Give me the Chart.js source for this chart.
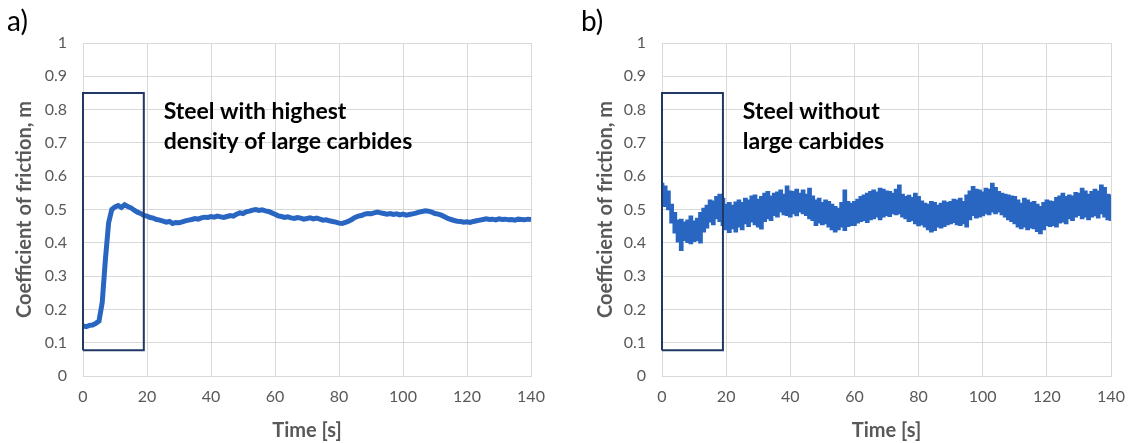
<!DOCTYPE html>
<html>
<head>
<meta charset="utf-8">
<script src="https://cdn.jsdelivr.net/npm/chart.js@4"></script>
<style>
  body { margin: 0; background: #fff; }
  #wrap { position: relative; width: 1130px; height: 443px; }
  #chartA { position: absolute; left: 0; top: 0; }
  #chartB { position: absolute; left: 579px; top: 0; }
</style>
</head>
<body>
<div id="wrap">
  <canvas id="chartA" width="579" height="443"></canvas>
  <canvas id="chartB" width="551" height="443"></canvas>
</div>
<script>
// friction coefficient, one reading per second (0..140 s)
var muA = [
  0.150, 0.148, 0.152, 0.153, 0.158, 0.165, 0.220, 0.350, 0.460, 0.500,
  0.508, 0.512, 0.506, 0.514, 0.509, 0.505, 0.498, 0.492, 0.488, 0.482,
  0.480, 0.476, 0.474, 0.470, 0.468, 0.465, 0.462, 0.464, 0.458, 0.461,
  0.460, 0.463, 0.466, 0.468, 0.470, 0.473, 0.471, 0.475, 0.477, 0.476,
  0.479, 0.477, 0.480, 0.478, 0.476, 0.479, 0.482, 0.480, 0.486, 0.490,
  0.488, 0.493, 0.495, 0.498, 0.500, 0.497, 0.499, 0.496, 0.494, 0.490,
  0.486, 0.481, 0.479, 0.476, 0.478, 0.475, 0.473, 0.476, 0.474, 0.471,
  0.473, 0.475, 0.472, 0.474, 0.471, 0.468, 0.469, 0.466, 0.464, 0.462,
  0.459, 0.458, 0.461, 0.465, 0.470, 0.476, 0.480, 0.482, 0.486, 0.488,
  0.487, 0.490, 0.492, 0.490, 0.488, 0.486, 0.488, 0.485, 0.487, 0.484,
  0.486, 0.483, 0.485, 0.487, 0.489, 0.492, 0.494, 0.496, 0.495, 0.492,
  0.488, 0.486, 0.483, 0.478, 0.473, 0.470, 0.467, 0.465, 0.464, 0.462,
  0.463, 0.461, 0.464, 0.466, 0.468, 0.470, 0.472, 0.470, 0.471, 0.469,
  0.472, 0.470, 0.471, 0.469, 0.470, 0.468, 0.471, 0.470, 0.469, 0.471,
  0.470
];

// steel b is noisy: upper and lower edge of the trace
var muBHigh = [
  0.578, 0.570, 0.555, 0.515, 0.490, 0.468, 0.470, 0.462, 0.468, 0.480,
  0.465, 0.473, 0.490, 0.503, 0.512, 0.528, 0.525, 0.538, 0.545, 0.533,
  0.515, 0.520, 0.512, 0.522, 0.528, 0.520, 0.533, 0.528, 0.540, 0.543,
  0.530, 0.538, 0.548, 0.553, 0.540, 0.548, 0.552, 0.558, 0.545, 0.570,
  0.555, 0.553, 0.560, 0.548, 0.558, 0.545, 0.563, 0.540, 0.528, 0.533,
  0.520, 0.528, 0.523, 0.515, 0.508, 0.503, 0.520, 0.558, 0.523, 0.518,
  0.523, 0.530, 0.538, 0.543, 0.548, 0.553, 0.558, 0.552, 0.563, 0.560,
  0.555, 0.553, 0.548, 0.560, 0.573, 0.545, 0.538, 0.542, 0.535, 0.548,
  0.538, 0.525, 0.518, 0.515, 0.523, 0.520, 0.512, 0.518, 0.525, 0.520,
  0.523, 0.530, 0.528, 0.533, 0.523, 0.543, 0.555, 0.568, 0.560, 0.558,
  0.552, 0.563, 0.560, 0.578, 0.565, 0.553, 0.548, 0.545, 0.543, 0.540,
  0.538, 0.528, 0.518, 0.533, 0.528, 0.520, 0.523, 0.515, 0.508, 0.520,
  0.528, 0.525, 0.523, 0.535, 0.540, 0.548, 0.538, 0.543, 0.540, 0.550,
  0.548, 0.563, 0.555, 0.545, 0.553, 0.560, 0.555, 0.573, 0.565, 0.545,
  0.543
];
var muBLow = [
  0.523, 0.510, 0.500, 0.460, 0.430, 0.403, 0.378, 0.408, 0.402, 0.398,
  0.405, 0.408, 0.400, 0.433, 0.445, 0.463, 0.455, 0.473, 0.465, 0.453,
  0.440, 0.432, 0.443, 0.433, 0.448, 0.440, 0.458, 0.450, 0.463, 0.455,
  0.448, 0.442, 0.465, 0.473, 0.468, 0.483, 0.478, 0.493, 0.485, 0.483,
  0.478, 0.488, 0.482, 0.493, 0.488, 0.483, 0.473, 0.468, 0.453, 0.460,
  0.455, 0.458, 0.448, 0.440, 0.433, 0.440, 0.448, 0.438, 0.450, 0.453,
  0.453, 0.460, 0.465, 0.468, 0.462, 0.470, 0.473, 0.478, 0.470, 0.478,
  0.483, 0.480, 0.488, 0.485, 0.488, 0.478, 0.473, 0.465, 0.468, 0.458,
  0.452, 0.455, 0.448, 0.440, 0.433, 0.438, 0.448, 0.445, 0.450, 0.455,
  0.458, 0.462, 0.455, 0.453, 0.458, 0.448, 0.470, 0.483, 0.475, 0.478,
  0.482, 0.488, 0.485, 0.493, 0.488, 0.493, 0.485, 0.478, 0.470, 0.465,
  0.458, 0.448, 0.443, 0.448, 0.440, 0.445, 0.443, 0.435, 0.428, 0.440,
  0.453, 0.450, 0.453, 0.448, 0.460, 0.463, 0.458, 0.473, 0.468, 0.478,
  0.483, 0.473, 0.478, 0.470, 0.478, 0.482, 0.475, 0.488, 0.478, 0.470,
  0.468
];

// highlighted running-in window (s, mu)
var boxT = [0, 0, 19, 19, 0];
var boxMu = [0.077, 0.85, 0.85, 0.077, 0.077];

var noteA = ["Steel with highest", "density of large carbides"];
var noteB = ["Steel without", "large carbides"];
var noteAt = [25.2, 0.795];

var blue = "#2966c1";
var grey = "#595959";
Chart.defaults.font.family = "Lato, 'Open Sans', sans-serif";

function toPoints(vals) {
  return vals.map(function (v, i) { return { x: i, y: v }; });
}

var boxPoints = boxT.map(function (t, i) { return { x: t, y: boxMu[i] }; });

var panelText = {
  id: "panelText",
  afterDraw: function (chart, args, opts) {
    var c = chart.ctx;
    var sx = chart.scales.x, sy = chart.scales.y;
    c.save();
    c.fillStyle = "#000";
    c.textBaseline = "middle";
    c.font = "28px Lato, sans-serif";
    c.fillText(opts.tag, opts.tagX, 22);
    c.font = "bold 23px Lato, sans-serif";
    var x = sx.getPixelForValue(noteAt[0]);
    var y = sy.getPixelForValue(noteAt[1]);
    opts.lines.forEach(function (s, i) { c.fillText(s, x, y + i * 30); });
    c.restore();
  }
};

function makeChart(id, datasets, tag, tagX, lines, padRight, titlePad) {
  return new Chart(document.getElementById(id), {
    type: "line",
    data: { datasets: datasets },
    options: {
      responsive: false,
      animation: false,
      layout: { padding: { left: 0, right: padRight, top: 43, bottom: 0 } },
      plugins: {
        legend: { display: false },
        tooltip: { enabled: false },
        panelText: { tag: tag, tagX: tagX, lines: lines }
      },
      elements: { point: { radius: 0 }, line: { tension: 0 } },
      scales: {
        x: {
          type: "linear",
          min: 0,
          max: 140,
          ticks: { stepSize: 20, color: grey, font: { size: 16 }, padding: 11, maxRotation: 0 },
          grid: { color: "#d9d9d9", drawTicks: false },
          border: { color: "#d9d9d9" },
          title: { display: true, text: "Time [s]", color: grey, font: { size: 20, weight: "bold" }, padding: { top: 4, bottom: 0 } },
          afterFit: function (s) {
            s.height = 67;
            s.paddingLeft = 0;
            s.paddingRight = 0;
          }
        },
        y: {
          min: 0,
          max: 1,
          ticks: {
            stepSize: 0.1, color: grey, font: { size: 16 }, padding: 16,
            callback: function (v) { return String(Math.round(v * 10) / 10); }
          },
          grid: { color: "#d9d9d9", drawTicks: false },
          border: { color: "#d9d9d9" },
          title: { display: true, text: "Coefficient of friction, m", color: grey, font: { size: 20, weight: "bold" }, padding: { top: titlePad, bottom: 0 } },
          afterFit: function (s) { s.width = 83; }
        }
      }
    },
    plugins: [panelText]
  });
}

var boxSet = {
  data: boxPoints, borderColor: "#1f3864", borderWidth: 2, fill: false, order: 0, clip: false
};

makeChart("chartA", [
  Object.assign({}, boxSet),
  { data: toPoints(muA), borderColor: blue, borderWidth: 5, fill: false, order: 1 }
], "a)", 7, noteA, 48, 13);

makeChart("chartB", [
  Object.assign({}, boxSet, { data: boxPoints.slice() }),
  { data: toPoints(muBHigh), borderColor: blue, backgroundColor: blue, borderWidth: 1.5, stepped: "middle", fill: "+1", order: 1 },
  { data: toPoints(muBLow), borderColor: blue, borderWidth: 1.5, stepped: "middle", fill: false, order: 2 }
], "b)", 2, noteB, 19, 15);
</script>
</body>
</html>
